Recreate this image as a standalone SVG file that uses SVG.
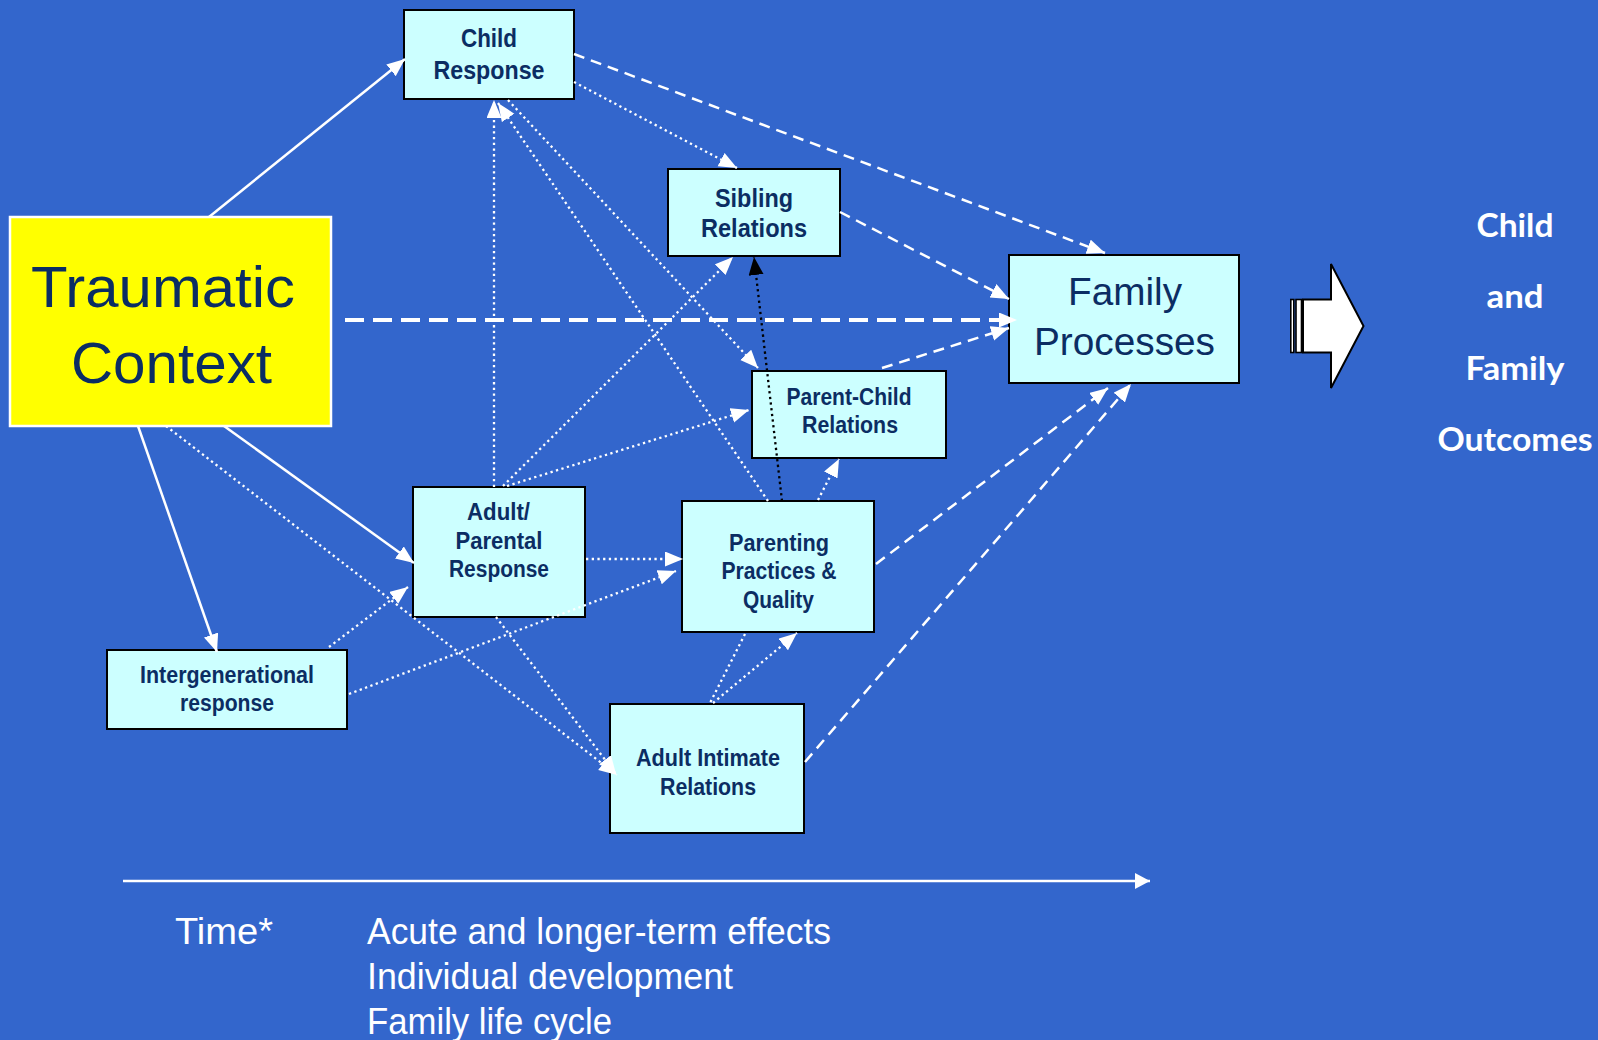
<svg xmlns="http://www.w3.org/2000/svg" width="1598" height="1040" viewBox="0 0 1598 1040">
  <style>
    .box { fill: #CCFFFF; stroke: #000; stroke-width: 2; }
    .lbl { font-family: "Liberation Sans Narrow", "Liberation Sans", Arial, sans-serif; font-weight: bold; fill: #0b2d63; text-anchor: middle; }
    .big { font-family: "Liberation Sans Narrow", "Liberation Sans", Arial, sans-serif; fill: #0b2d63; }
    .solid { stroke: #fff; stroke-width: 2.5; fill: none; }
    .dash { stroke: #fff; stroke-width: 2.5; stroke-dasharray: 11 7; fill: none; }
    .dashbig { stroke: #fff; stroke-width: 4; stroke-dasharray: 19 9; fill: none; }
    .dot { stroke: #fff; stroke-width: 2.3; stroke-dasharray: 2.3 3.4; fill: none; }
    .dotk { stroke: #000; stroke-width: 2.3; stroke-dasharray: 2.3 3.4; fill: none; }
    .out { font-family: Lato, "Liberation Sans", Arial, sans-serif; font-weight: bold; font-size: 33px; fill: #fff; text-anchor: middle; }
    .time { font-family: "Liberation Sans Narrow", "Liberation Sans", Arial, sans-serif; font-size: 36px; fill: #fff; }
  </style>
  <defs>
    <marker id="aw" markerUnits="userSpaceOnUse" markerWidth="19" markerHeight="16" refX="18" refY="7.5" orient="auto">
      <path d="M0,0 L18,7.5 L0,15 z" fill="#fff"/>
    </marker>
    <marker id="ak" markerUnits="userSpaceOnUse" markerWidth="19" markerHeight="16" refX="18" refY="7.5" orient="auto">
      <path d="M0,0 L18,7.5 L0,15 z" fill="#000"/>
    </marker>
    <marker id="at" markerUnits="userSpaceOnUse" markerWidth="17" markerHeight="17" refX="15" refY="8" orient="auto">
      <path d="M0,0 L15,8 L0,16 z" fill="#fff"/>
    </marker>
  </defs>

  <rect width="1598" height="1040" fill="#3366CC"/>

  <!-- nodes -->
  <g id="traumatic-context">
    <rect x="10" y="217" width="321" height="209" fill="#FFFF00" stroke="#fff" stroke-width="2.5"/>
    <text class="big" x="31" y="307" font-size="58" textLength="264" lengthAdjust="spacingAndGlyphs">Traumatic</text>
    <text class="big" x="71" y="383" font-size="58" textLength="201" lengthAdjust="spacingAndGlyphs">Context</text>
  </g>
  <g id="child-response">
    <rect class="box" x="404" y="10" width="170" height="89"/>
    <text class="lbl" x="489" y="47" font-size="25" textLength="56" lengthAdjust="spacingAndGlyphs">Child</text>
    <text class="lbl" x="489" y="78.5" font-size="25" textLength="111" lengthAdjust="spacingAndGlyphs">Response</text>
  </g>
  <g id="sibling-relations">
    <rect class="box" x="668" y="169" width="172" height="87"/>
    <text class="lbl" x="754" y="207" font-size="25" textLength="78" lengthAdjust="spacingAndGlyphs">Sibling</text>
    <text class="lbl" x="754" y="237" font-size="25" textLength="106" lengthAdjust="spacingAndGlyphs">Relations</text>
  </g>
  <g id="family-processes">
    <rect class="box" x="1009" y="255" width="230" height="128"/>
    <text class="big" x="1125" y="305" font-size="38" text-anchor="middle" textLength="114" lengthAdjust="spacingAndGlyphs">Family</text>
    <text class="big" x="1124.5" y="355" font-size="38" text-anchor="middle" textLength="181" lengthAdjust="spacingAndGlyphs">Processes</text>
  </g>
  <g id="parent-child-relations">
    <rect class="box" x="752" y="371" width="194" height="87"/>
    <text class="lbl" x="849" y="405" font-size="23" textLength="125" lengthAdjust="spacingAndGlyphs">Parent-Child</text>
    <text class="lbl" x="850" y="433" font-size="23" textLength="96" lengthAdjust="spacingAndGlyphs">Relations</text>
  </g>
  <g id="adult-parental-response">
    <rect class="box" x="413" y="487" width="172" height="130"/>
    <text class="lbl" x="498.5" y="520" font-size="23" textLength="63" lengthAdjust="spacingAndGlyphs">Adult/</text>
    <text class="lbl" x="499" y="549" font-size="23" textLength="87" lengthAdjust="spacingAndGlyphs">Parental</text>
    <text class="lbl" x="499" y="577" font-size="23" textLength="100" lengthAdjust="spacingAndGlyphs">Response</text>
  </g>
  <g id="parenting-practices">
    <rect class="box" x="682" y="501" width="192" height="131"/>
    <text class="lbl" x="779" y="551" font-size="23" textLength="100" lengthAdjust="spacingAndGlyphs">Parenting</text>
    <text class="lbl" x="779" y="579" font-size="23" textLength="115" lengthAdjust="spacingAndGlyphs">Practices &amp;</text>
    <text class="lbl" x="778.5" y="608" font-size="23" textLength="71" lengthAdjust="spacingAndGlyphs">Quality</text>
  </g>
  <g id="intergenerational-response">
    <rect class="box" x="107" y="650" width="240" height="79"/>
    <text class="lbl" x="227" y="683" font-size="23" textLength="174" lengthAdjust="spacingAndGlyphs">Intergenerational</text>
    <text class="lbl" x="227" y="711" font-size="23" textLength="94" lengthAdjust="spacingAndGlyphs">response</text>
  </g>
  <g id="adult-intimate-relations">
    <rect class="box" x="610" y="704" width="194" height="129"/>
    <text class="lbl" x="708" y="766" font-size="23" textLength="144" lengthAdjust="spacingAndGlyphs">Adult Intimate</text>
    <text class="lbl" x="708" y="795" font-size="23" textLength="96" lengthAdjust="spacingAndGlyphs">Relations</text>
  </g>

  <!-- connectors -->
  <g id="connectors">
    <!-- direct effects of the traumatic context -->
    <line class="solid" x1="209" y1="217" x2="405" y2="59" marker-end="url(#aw)"/>
    <line class="solid" x1="224" y1="426" x2="414" y2="563" marker-end="url(#aw)"/>
    <line class="solid" x1="138" y1="426" x2="217" y2="652" marker-end="url(#aw)"/>
    <line class="dashbig" x1="345" y1="320" x2="1017" y2="320" marker-end="url(#aw)"/>

    <!-- paths into family processes -->
    <line class="dash" x1="574" y1="54" x2="1105" y2="253" marker-end="url(#aw)"/>
    <line class="dash" x1="840" y1="212" x2="1009" y2="299" marker-end="url(#aw)"/>
    <line class="dash" x1="882" y1="368" x2="1009" y2="328" marker-end="url(#aw)"/>
    <line class="dash" x1="876" y1="564" x2="1108" y2="388" marker-end="url(#aw)"/>
    <line class="dash" x1="805" y1="762" x2="1131" y2="384" marker-end="url(#aw)"/>

    <!-- reciprocal influences between subsystems -->
    <line class="dot" x1="574" y1="82" x2="737" y2="168" marker-end="url(#aw)"/>
    <line class="dot" x1="494" y1="487" x2="494" y2="100" marker-end="url(#aw)"/>
    <line class="dot" x1="508" y1="100" x2="758" y2="368" marker-end="url(#aw)"/>
    <line class="dot" x1="768" y1="501" x2="498" y2="103" marker-end="url(#aw)"/>
    <line class="dot" x1="503" y1="486" x2="733" y2="257" marker-end="url(#aw)"/>
    <line class="dot" x1="507" y1="486" x2="749" y2="410" marker-end="url(#aw)"/>
    <line class="dotk" x1="782" y1="501" x2="754" y2="257" marker-end="url(#ak)"/>
    <line class="dot" x1="818" y1="500" x2="839" y2="459" marker-end="url(#aw)"/>
    <line class="dot" x1="586" y1="559" x2="683" y2="559" marker-end="url(#aw)"/>
    <line class="dot" x1="349" y1="694" x2="676" y2="571" marker-end="url(#aw)"/>
    <line class="dot" x1="329" y1="647" x2="408" y2="587" marker-end="url(#aw)"/>
    <line class="dot" x1="166" y1="426" x2="617" y2="775" marker-end="url(#aw)"/>
    <line class="dot" x1="496" y1="617" x2="616" y2="774" marker-end="url(#aw)"/>
    <line class="dot" x1="745" y1="634" x2="710" y2="703"/>
    <line class="dot" x1="713" y1="703" x2="797" y2="633" marker-end="url(#aw)"/>

    <!-- time axis -->
    <line class="solid" x1="123" y1="881" x2="1150" y2="881" stroke-width="3" marker-end="url(#at)"/>
  </g>

  <!-- outcome arrow -->
  <g id="outcome-arrow" stroke="#000" stroke-width="1.6" fill="#fff">
    <rect x="1290.8" y="299.5" width="3" height="53"/>
    <rect x="1296" y="299.5" width="5.5" height="53"/>
    <polygon points="1303,299.5 1331,299.5 1331,264 1363.5,326 1331,388 1331,352.5 1303,352.5" stroke-width="2"/>
  </g>

  <g id="outcomes">
    <text class="out" x="1515" y="237" textLength="77" lengthAdjust="spacingAndGlyphs">Child</text>
    <text class="out" x="1515" y="308" textLength="57" lengthAdjust="spacingAndGlyphs">and</text>
    <text class="out" x="1515" y="380" textLength="99" lengthAdjust="spacingAndGlyphs">Family</text>
    <text class="out" x="1515" y="451" textLength="155" lengthAdjust="spacingAndGlyphs">Outcomes</text>
  </g>

  <g id="time-notes">
    <text class="time" x="175" y="944" textLength="98" lengthAdjust="spacingAndGlyphs">Time*</text>
    <text class="time" x="367" y="944" textLength="464" lengthAdjust="spacingAndGlyphs">Acute and longer-term effects</text>
    <text class="time" x="367" y="989" textLength="366" lengthAdjust="spacingAndGlyphs">Individual development</text>
    <text class="time" x="367" y="1034" textLength="245" lengthAdjust="spacingAndGlyphs">Family life cycle</text>
  </g>
</svg>
